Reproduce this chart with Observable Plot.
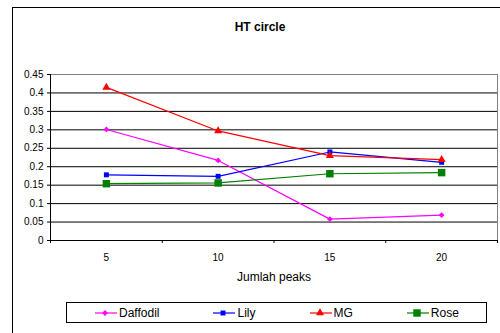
<!DOCTYPE html>
<html><head><meta charset="utf-8">
<script src="https://cdn.jsdelivr.net/npm/d3@7"></script>
<script src="https://cdn.jsdelivr.net/npm/@observablehq/plot@0.6"></script>
<style>
body{margin:0;background:#fff;font-family:"Liberation Sans",Arial,sans-serif;}
#wrap{position:relative;width:500px;height:333px;overflow:hidden;background:#fff;}
#frame{position:absolute;left:12px;top:7px;width:600px;height:400px;border-left:1px solid #000;border-top:1px solid #000;box-sizing:border-box;}
#title{position:absolute;left:200px;width:120px;top:20px;text-align:center;font-weight:bold;font-size:12px;line-height:14px;color:#000;}
#chart{position:absolute;left:0;top:0;}
#legend{position:absolute;left:66px;top:302px;width:421px;height:21px;border:1px solid #000;box-sizing:border-box;display:flex;align-items:center;padding-left:28px;gap:54px;font-size:12px;color:#000;}
.item{display:flex;align-items:center;gap:2px;}
.item svg{display:block;}
</style></head>
<body>
<div id="wrap">
  <div id="frame"></div>
  <div id="title">HT circle</div>
  <div id="chart"></div>
  <div id="legend"></div>
</div>
<script>
const categories = [5, 10, 15, 20];
const seriesNames = ["Daffodil", "Lily", "MG", "Rose"];
const daffodil = [0.301, 0.217, 0.058, 0.069];
const lily = [0.178, 0.174, 0.240, 0.212];
const mg = [0.415, 0.297, 0.230, 0.219];
const rose = [0.154, 0.156, 0.181, 0.184];
const yTicks = [0, 0.05, 0.1, 0.15, 0.2, 0.25, 0.3, 0.35, 0.4, 0.45];
const xTitle = "Jumlah peaks";

const seriesValues = [daffodil, lily, mg, rose];
const colors = ["#ff00ff", "#0000ff", "#ff0000", "#008000"];
const symbols = ["diamond2", "square", "triangle", "square"];
const d3symbols = [d3.symbolDiamond2, d3.symbolSquare, d3.symbolTriangle, d3.symbolSquare];
const radii = [2.6, 2.8, 3.0, 4.2];

const rows = [];
seriesNames.forEach((s, i) => categories.forEach((c, j) => rows.push({series: s, x: c, y: seriesValues[i][j]})));

const half = (categories[1] - categories[0]) / 2;
const xDomain = [categories[0] - half, categories[categories.length - 1] + half];
const xBounds = categories.map(c => c - half).concat([xDomain[1]]);

const marks = [
  Plot.ruleY(yTicks.filter(v => v > 0 && v < yTicks[yTicks.length - 1]), {stroke: "#000", strokeWidth: 1}),
  Plot.ruleY([yTicks[yTicks.length - 1]], {stroke: "#808080", strokeWidth: 1}),
  Plot.ruleX([xDomain[1]], {stroke: "#808080", strokeWidth: 1}),
  Plot.ruleX([xDomain[0]], {stroke: "#000", strokeWidth: 1}),
  Plot.ruleY([0], {stroke: "#000", strokeWidth: 1}),
  Plot.axisY({ticks: yTicks, tickFormat: d3.format(""), tickSize: 3, tickPadding: 4, stroke: "#000", fill: "#000"}),
  Plot.axisX({ticks: xBounds, tickFormat: () => "", tickSize: 3, stroke: "#000"}),
  Plot.axisX({ticks: categories, tickFormat: d => String(d), tickSize: 0, tickPadding: 13, fill: "#000"}),
  Plot.text([xTitle], {frameAnchor: "bottom", dy: 40, fontSize: 12, fill: "#000"})
];
seriesNames.forEach((s, i) => {
  const data = rows.filter(r => r.series === s);
  marks.push(Plot.line(data, {x: "x", y: "y", stroke: colors[i], strokeWidth: 1.2}));
  marks.push(Plot.dot(data, {x: "x", y: "y", symbol: () => symbols[i], fill: colors[i], stroke: "none", r: radii[i]}));
});

const chart = Plot.plot({
  width: 500,
  height: 295,
  marginLeft: 50,
  marginRight: 3,
  marginTop: 74,
  marginBottom: 55,
  style: {fontFamily: "'Liberation Sans', Arial, sans-serif", fontSize: "10px", background: "transparent", color: "#000"},
  x: {type: "linear", domain: xDomain, label: null},
  y: {domain: [0, yTicks[yTicks.length - 1]], label: null},
  symbol: {type: "identity"},
  marks
});
document.getElementById("chart").appendChild(chart);

const legend = document.getElementById("legend");
seriesNames.forEach((s, i) => {
  const item = document.createElement("div");
  item.className = "item";
  const svg = d3.create("svg").attr("width", 22).attr("height", 10);
  svg.append("line").attr("x1", 0).attr("x2", 22).attr("y1", 5).attr("y2", 5).attr("stroke", colors[i]).attr("stroke-width", 1.2);
  svg.append("path").attr("transform", "translate(10,5)")
    .attr("d", d3.symbol(d3symbols[i], Math.PI * radii[i] * radii[i])())
    .attr("fill", colors[i]);
  item.appendChild(svg.node());
  const t = document.createElement("span");
  t.textContent = s;
  item.appendChild(t);
  legend.appendChild(item);
});
</script>
</body></html>
